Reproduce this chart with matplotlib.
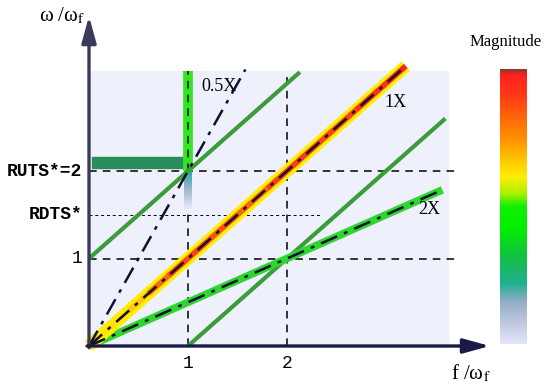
import numpy as np
import matplotlib
matplotlib.use('Agg')
import matplotlib.pyplot as plt
from matplotlib.colors import LinearSegmentedColormap
from matplotlib.collections import LineCollection
from matplotlib.patches import Rectangle

plt.rcParams['mathtext.fontset'] = 'stix'

# order lines: slope, end of line on f axis, label
order_slope = [2.0, 1.0, 0.5]
order_xend = [1.58, 3.2, 3.57]
order_label = ['0.5X', '1X', '2X']
order_label_pos = [(1.31, 2.97), (3.1, 2.78), (3.44, 1.56)]

# green sideband lines y = x + c
side_offset = [1.0, -1.0]
side_x = [(0.0, 2.13), (1.0, 3.6)]

# magnitude along the 1X ridge
ridge_x = [0.0, 0.4, 0.6, 0.8, 1.0, 1.2, 1.5, 1.8, 2.0, 2.3, 2.7, 3.0, 3.2]
ridge_mag = [0.62, 0.63, 0.7, 0.93, 0.85, 0.93, 0.8, 0.85, 0.94, 0.85, 0.92, 0.95, 0.99]

ruts = 2.0
rdts = 1.5
f_ticks = [1, 2]

# colorbar stops (position from bottom, colour)
cb_pos = [0.0, 0.15, 0.22, 0.32, 0.42, 0.5, 0.55, 0.61, 0.75, 0.9, 0.98, 1.0]
cb_col = ['#e4e4fa', '#98aec8', '#20b090', '#12c040', '#00f000', '#10f000',
          '#b0f000', '#ffee00', '#ff9000', '#ff3c14', '#ff2020', '#8a3a2a']
cmap = LinearSegmentedColormap.from_list('mag', list(zip(cb_pos, cb_col)))

fig = plt.figure(figsize=(5.5, 3.89), dpi=100)
ax = fig.add_axes([0, 0, 1, 1])
ax.set_xlim(-89 / 99, (550 - 89) / 99)
ax.set_ylim(-(389 - 346) / 87.5, 346 / 87.5)
ax.axis('off')

xmax, ymax = 3.63, 3.14
ax.add_patch(Rectangle((0, 0), xmax, ymax, color='#eef0fb', zorder=0))

# dashed guides
for v in f_ticks:
    ax.plot([v, v], [0, ymax], ls=(0, (5, 4)), color='k', lw=1.1, zorder=2)
for h in [1, ruts]:
    ax.plot([0, 3.75], [h, h], ls=(0, (5, 4)), color='k', lw=1.1, zorder=2)
ax.plot([0, 2.35], [rdts, rdts], ls=(0, (3, 3)), color='k', lw=0.7, zorder=2)

# RUTS markers
ax.add_patch(Rectangle((0.03, 2.03), 0.93, 0.13, color='#2a8c5a', zorder=3))
ax.plot([1, 1], [ruts, ymax], color='#33e622', lw=7, solid_capstyle='butt', zorder=3)
ax.plot([1, 1], [ruts, ymax], ls=(0, (5, 4)), color='k', lw=1.1, zorder=3)
grad = np.linspace(0, 1, 50).reshape(-1, 1)
ax.imshow(grad, cmap=LinearSegmentedColormap.from_list('g', ['#e8e8fa', '#a0b8d0', '#30a8a0']),
          extent=(0.96, 1.04, 1.57, ruts), origin='lower', aspect='auto', zorder=3)

# green sideband lines
for c, (x0, x1) in zip(side_offset, side_x):
    xs = np.array([x0, x1])
    ax.plot(xs, xs + c, color='#3c9c3c', lw=3, solid_capstyle='butt', zorder=4)

# 2X line
x2 = np.array([0, order_xend[2]])
ax.plot(x2, order_slope[2] * x2, color='#2ed62e', lw=5.5, solid_capstyle='butt', zorder=5)

# 1X ridge
x1 = np.array([0, order_xend[1]])
ax.plot(x1, x1, color='#ffee00', lw=9, solid_capstyle='butt', zorder=5)
rx = np.array(ridge_x)
pts = np.column_stack([rx, rx]).reshape(-1, 1, 2)
segs = np.concatenate([pts[:-1], pts[1:]], axis=1)
mag = np.array(ridge_mag)
lc = LineCollection(segs, cmap=cmap, norm=plt.Normalize(0, 1), lw=4, zorder=6)
lc.set_array((mag[:-1] + mag[1:]) / 2)
ax.add_collection(lc)

# order lines (dash-dot)
for k, xe, lab, (lx, ly) in zip(order_slope, order_xend, order_label, order_label_pos):
    xs = np.array([0, xe])
    ax.plot(xs, k * xs, ls=(0, (7, 3, 1.5, 3)), color='#101030', lw=1.8, zorder=7)
    ax.text(lx, ly, lab, fontsize=13, family='Liberation Serif', ha='center', va='center', zorder=8)

# axes arrows
ax.annotate('', xy=(0, 3.77), xytext=(0, -0.02),
            arrowprops=dict(arrowstyle='-|>,head_length=0.8,head_width=0.22', lw=2.4,
                            color='#3a3a5c', mutation_scale=20, shrinkA=0, shrinkB=0), zorder=9)
ax.annotate('', xy=(4.05, 0), xytext=(-0.02, 0),
            arrowprops=dict(arrowstyle='-|>,head_length=0.8,head_width=0.22', lw=2.4,
                            color='#1a1a48', mutation_scale=20, shrinkA=0, shrinkB=0), zorder=9)

# labels
ax.text(-0.27, 3.77, r'ω /ω$_\mathrm{f}$', fontsize=15, family='Liberation Serif', ha='center', va='center')
ax.text(3.86, -0.31, r'f /ω$_\mathrm{f}$', fontsize=15, family='Liberation Serif', ha='center', va='center')
ax.text(-0.07, ruts, 'RUTS*=2', fontsize=13, family='Liberation Mono', weight='bold', ha='right', va='center')
ax.text(-0.07, rdts, 'RDTS*', fontsize=13, family='Liberation Mono', weight='bold', ha='right', va='center')
ax.text(-0.07, 1, '1', fontsize=13, family='Liberation Mono', ha='right', va='center')
for v in f_ticks:
    ax.text(v, -0.2, str(v), fontsize=13, family='Liberation Mono', ha='center', va='center')

# colorbar
cax = fig.add_axes([500 / 550, (389 - 344) / 389, 27 / 550, 275 / 389])
cax.imshow(np.linspace(0, 1, 256).reshape(-1, 1), cmap=cmap, origin='lower', aspect='auto')
cax.set_xticks([])
cax.set_yticks([])
for s in cax.spines.values():
    s.set_visible(False)
fig.text(506 / 550, 1 - 42 / 389, 'Magnitude', fontsize=12, family='Liberation Serif', ha='center', va='center')

fig.savefig('out.png', dpi=100)
